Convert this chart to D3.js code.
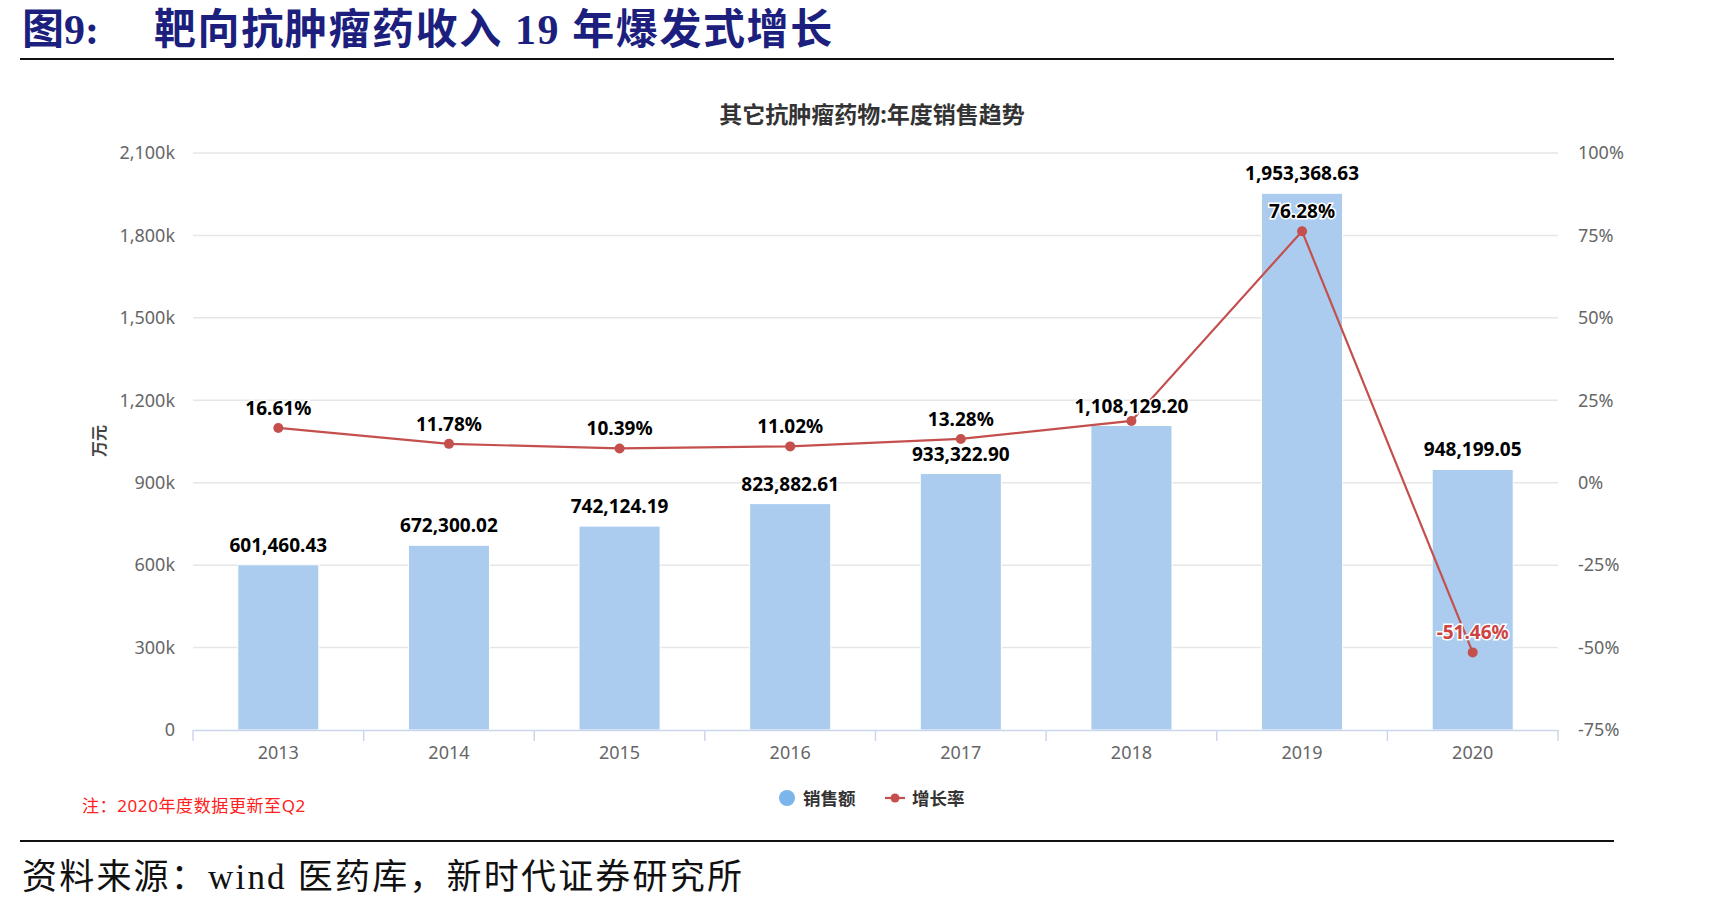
<!DOCTYPE html>
<html>
<head>
<meta charset="utf-8">
<script src="https://cdn.jsdelivr.net/npm/d3@7"></script>
<style>
  body { margin: 0; background: #fff; }
  text { font-family: "Noto Sans", "Noto Sans CJK SC", sans-serif; }
</style>
</head>
<body>
<div id="chart"></div>
<script>
// data
const years = ["2013", "2014", "2015", "2016", "2017", "2018", "2019", "2020"];
const sales = [601460.43, 672300.02, 742124.19, 823882.61, 933322.90, 1108129.20, 1953368.63, 948199.05];
const growth = [16.61, 11.78, 10.39, 11.02, 13.28, 18.73, 76.28, -51.46];
const growthLabelShown = [true, true, true, true, true, false, true, true]; // 2018 label is hidden under the bar label
const leftTicks = [0, 300000, 600000, 900000, 1200000, 1500000, 1800000, 2100000];
const rightTicks = [-75, -50, -25, 0, 25, 50, 75, 100];

function drawChart() {
  const W = 1724, H = 908;
  const plot = { left: 193, right: 1558, top: 153, bottom: 730 };
  const barColor = "#abccee", lineColor = "#c4504e";
  const serif = "'Liberation Serif', 'Noto Sans CJK SC', serif";

  const svg = d3.select("#chart").append("svg")
    .attr("width", W).attr("height", H);

  // heading + rules
  svg.append("text")
    .attr("x", 22).attr("y", 44)
    .style("font-family", serif)
    .attr("font-size", "42px").attr("font-weight", "bold")
    .attr("fill", "#1c1f7e")
    .text("图9:");
  svg.append("text")
    .attr("x", 154).attr("y", 44)
    .style("font-family", serif)
    .style("white-space", "pre")
    .attr("font-size", "42px").attr("font-weight", "bold")
    .attr("letter-spacing", "1.6px")
    .attr("fill", "#1c1f7e")
    .text("靶向抗肿瘤药收入 19 年爆发式增长");

  svg.append("line").attr("x1", 20).attr("x2", 1614).attr("y1", 59).attr("y2", 59)
    .attr("stroke", "#111").attr("stroke-width", 2);
  svg.append("line").attr("x1", 20).attr("x2", 1614).attr("y1", 841).attr("y2", 841)
    .attr("stroke", "#111").attr("stroke-width", 2);

  svg.append("text")
    .attr("x", 22).attr("y", 889)
    .style("font-family", serif)
    .attr("font-size", "35px")
    .attr("letter-spacing", "2.2px")
    .attr("fill", "#111")
    .text("资料来源：wind 医药库，新时代证券研究所");

  // chart title
  svg.append("text")
    .attr("x", 872).attr("y", 123)
    .attr("text-anchor", "middle")
    .attr("font-size", "23px").attr("font-weight", "bold")
    .attr("fill", "#333")
    .text("其它抗肿瘤药物:年度销售趋势");

  // scales
  const x = d3.scaleBand().domain(years).range([plot.left, plot.right]);
  const yL = d3.scaleLinear().domain([0, 2100000]).range([plot.bottom, plot.top]);
  const yR = d3.scaleLinear().domain([-75, 100]).range([plot.bottom, plot.top]);

  // gridlines
  svg.append("g").selectAll("line")
    .data(leftTicks.slice(1))
    .join("line")
    .attr("x1", plot.left).attr("x2", plot.right)
    .attr("y1", d => yL(d)).attr("y2", d => yL(d))
    .attr("stroke", "#e6e6e6").attr("stroke-width", 1.5);

  // left axis
  const gL = svg.append("g")
    .attr("transform", `translate(${plot.left},0)`)
    .call(d3.axisLeft(yL).tickValues(leftTicks).tickSize(0).tickPadding(18)
      .tickFormat(d => d === 0 ? "0" : d3.format(",")(d / 1000) + "k"));
  gL.select(".domain").remove();
  gL.selectAll("text").attr("font-size", "18px").attr("fill", "#666")
    .style("font-family", "'Noto Sans', sans-serif");

  // right axis
  const gR = svg.append("g")
    .attr("transform", `translate(${plot.right},0)`)
    .call(d3.axisRight(yR).tickValues(rightTicks).tickSize(0).tickPadding(20)
      .tickFormat(d => d + "%"));
  gR.select(".domain").remove();
  gR.selectAll("text").attr("font-size", "18px").attr("fill", "#666")
    .style("font-family", "'Noto Sans', sans-serif");

  // y axis title
  svg.append("text")
    .attr("transform", "translate(105,441) rotate(-90)")
    .attr("text-anchor", "middle")
    .attr("font-size", "16px").attr("font-weight", "bold")
    .attr("fill", "#444")
    .text("万元");

  // bars
  const barW = x.bandwidth() * 0.475;
  svg.append("g").selectAll("rect")
    .data(years)
    .join("rect")
    .attr("x", d => x(d) + (x.bandwidth() - barW) / 2)
    .attr("y", (d, i) => yL(sales[i]))
    .attr("width", barW)
    .attr("height", (d, i) => plot.bottom - yL(sales[i]))
    .attr("fill", barColor)
    .attr("stroke", "#fff").attr("stroke-width", 1);

  // x axis
  const gX = svg.append("g")
    .attr("transform", `translate(0,${plot.bottom})`)
    .call(d3.axisBottom(x).tickSize(0).tickPadding(16));
  gX.select(".domain").attr("stroke", "#ccd6eb").attr("stroke-width", 1.5);
  gX.selectAll("text").attr("font-size", "18px").attr("fill", "#666")
    .style("font-family", "'Noto Sans', sans-serif");
  const bounds = years.map(d => x(d)).concat([x(years[years.length - 1]) + x.bandwidth()]);
  gX.selectAll(".bound")
    .data(bounds)
    .join("line")
    .attr("class", "bound")
    .attr("x1", d => d).attr("x2", d => d)
    .attr("y1", 0).attr("y2", 11)
    .attr("stroke", "#ccd6eb").attr("stroke-width", 1.5);

  // growth line
  const cx = d => x(d) + x.bandwidth() / 2;
  const line = d3.line()
    .x((d, i) => cx(years[i]))
    .y(d => yR(d));
  svg.append("path")
    .datum(growth)
    .attr("d", line)
    .attr("fill", "none")
    .attr("stroke", lineColor).attr("stroke-width", 2.2);
  svg.append("g").selectAll("circle")
    .data(growth)
    .join("circle")
    .attr("cx", (d, i) => cx(years[i]))
    .attr("cy", d => yR(d))
    .attr("r", 5)
    .attr("fill", lineColor);

  // bar value labels
  svg.append("g").selectAll("text")
    .data(sales)
    .join("text")
    .attr("x", (d, i) => cx(years[i]))
    .attr("y", d => yL(d) - 13)
    .attr("text-anchor", "middle")
    .attr("font-size", "19px").attr("font-weight", "bold")
    .attr("fill", "#000")
    .attr("stroke", "#fff").attr("stroke-width", 3).attr("paint-order", "stroke")
    .text(d => d3.format(",.2f")(d));

  // growth labels
  svg.append("g").selectAll("text")
    .data(growth.map((g, i) => ({ g, i })).filter(d => growthLabelShown[d.i]))
    .join("text")
    .attr("x", d => cx(years[d.i]))
    .attr("y", d => yR(d.g) - 13)
    .attr("text-anchor", "middle")
    .attr("font-size", "19px").attr("font-weight", "bold")
    .attr("fill", d => d.g < 0 ? "#cc4444" : "#000")
    .attr("stroke", "#fff").attr("stroke-width", 3).attr("paint-order", "stroke")
    .text(d => d.g.toFixed(2) + "%");

  // note
  svg.append("text")
    .attr("x", 82).attr("y", 812)
    .attr("font-size", "17px")
    .attr("letter-spacing", "0.6px")
    .attr("fill", "#ff2020")
    .text("注：2020年度数据更新至Q2");

  // legend
  const lg = svg.append("g");
  lg.append("circle").attr("cx", 787).attr("cy", 798).attr("r", 8).attr("fill", "#7cb5ec");
  lg.append("text").attr("x", 803).attr("y", 805)
    .attr("font-size", "17.5px").attr("font-weight", "bold").attr("fill", "#333")
    .text("销售额");
  lg.append("line").attr("x1", 885).attr("x2", 905).attr("y1", 798).attr("y2", 798)
    .attr("stroke", lineColor).attr("stroke-width", 2.2);
  lg.append("circle").attr("cx", 895).attr("cy", 798).attr("r", 4.5).attr("fill", lineColor);
  lg.append("text").attr("x", 912).attr("y", 805)
    .attr("font-size", "17.5px").attr("font-weight", "bold").attr("fill", "#333")
    .text("增长率");
}

drawChart();
</script>
</body>
</html>
